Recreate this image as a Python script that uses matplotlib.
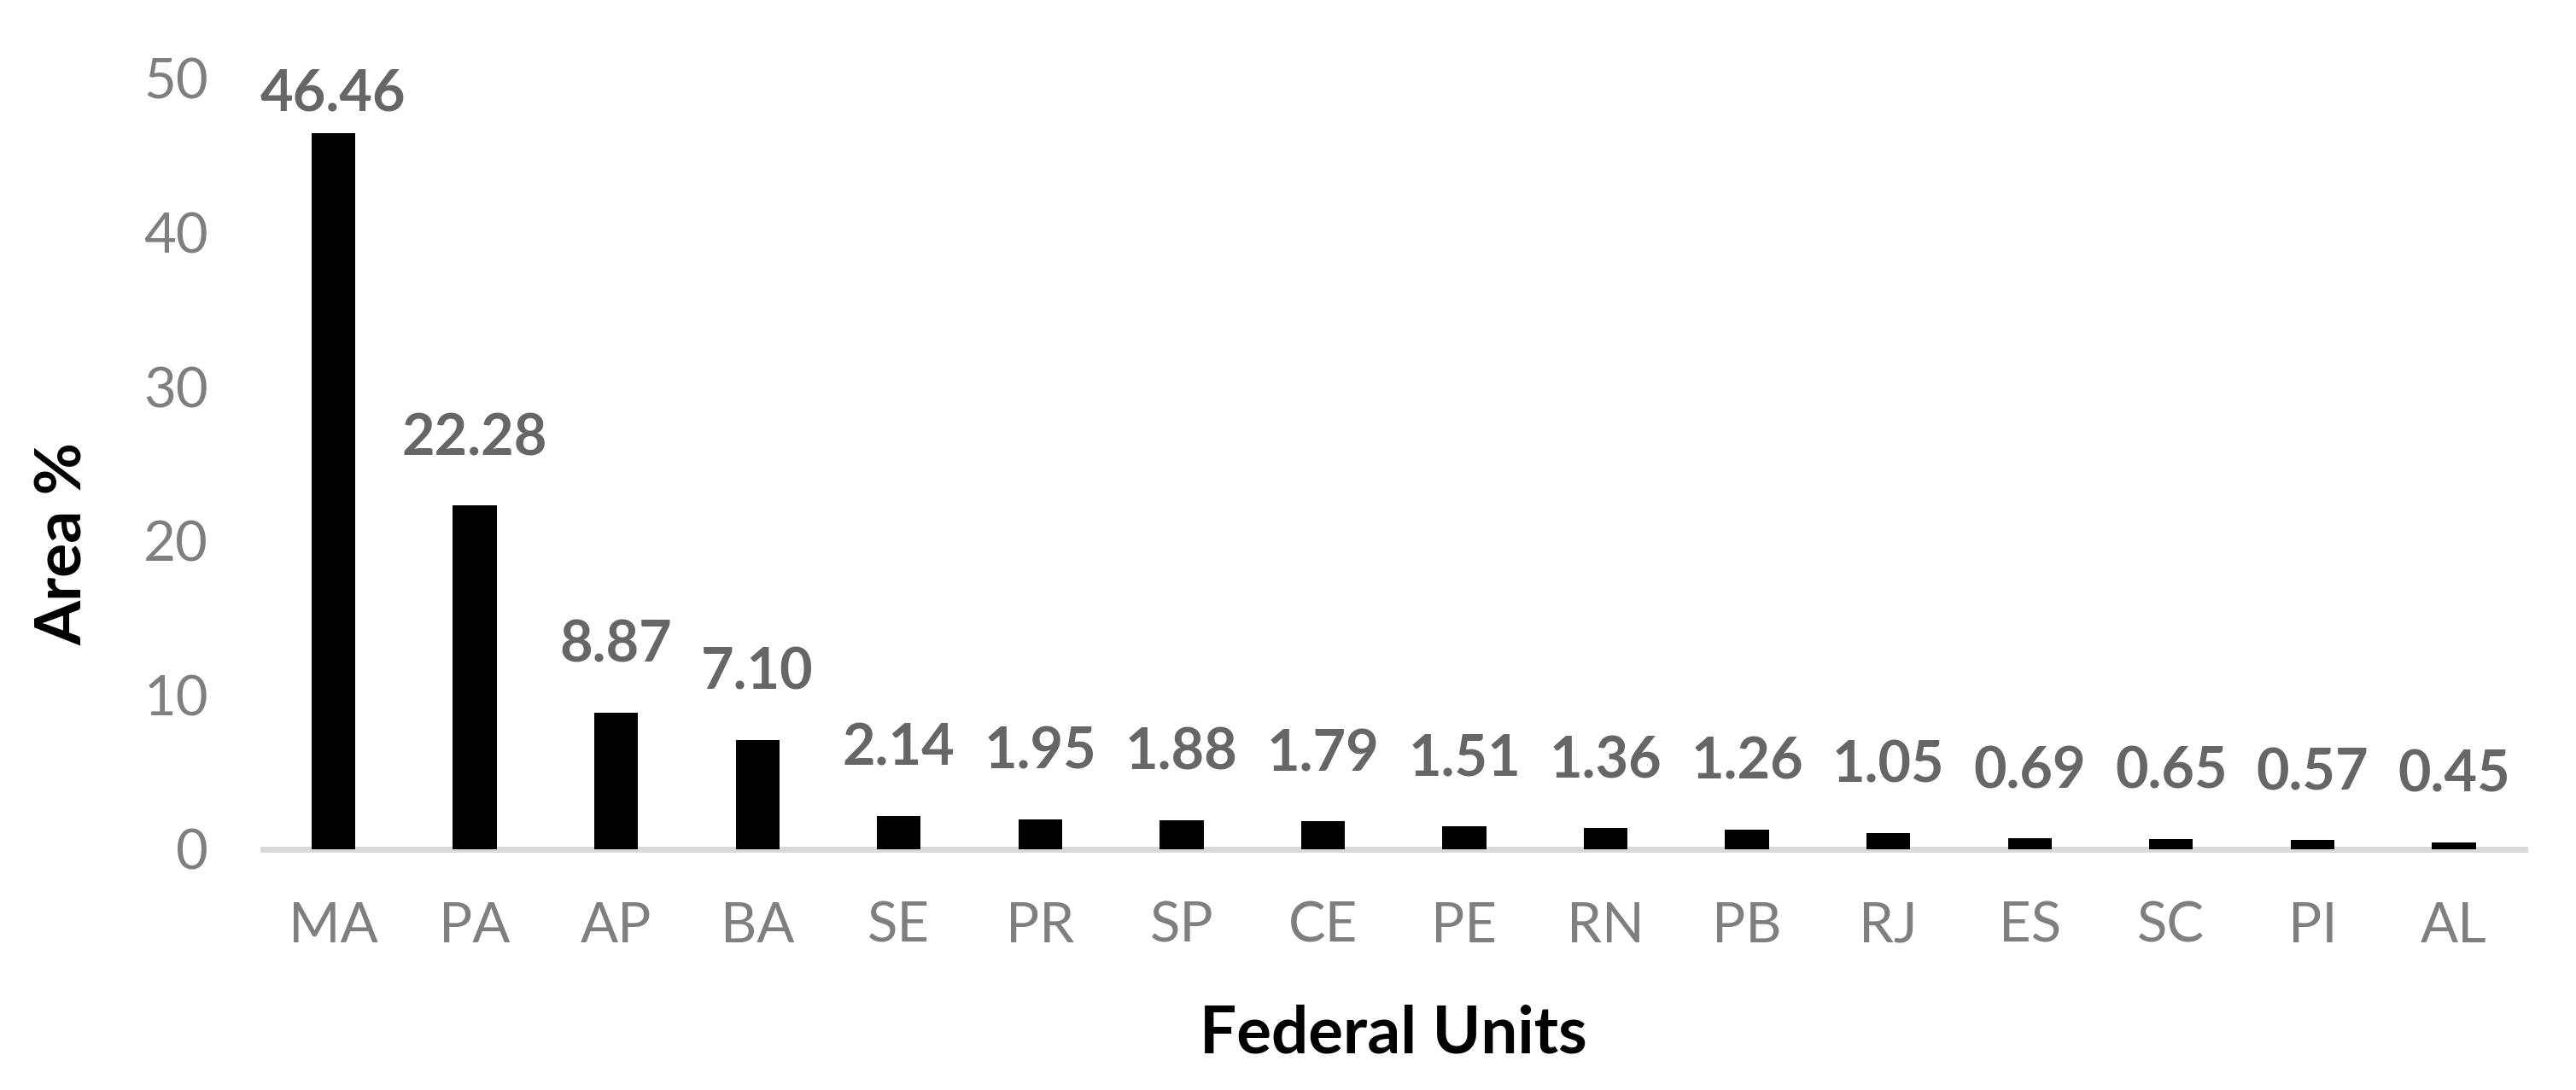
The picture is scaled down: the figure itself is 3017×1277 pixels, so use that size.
import matplotlib
matplotlib.use("Agg")
import matplotlib.pyplot as plt

units = ["MA", "PA", "AP", "BA", "SE", "PR", "SP", "CE", "PE", "RN", "PB", "RJ", "ES", "SC", "PI", "AL"]
area_pct = [46.46, 22.28, 8.87, 7.10, 2.14, 1.95, 1.88, 1.79, 1.51, 1.36, 1.26, 1.05, 0.69, 0.65, 0.57, 0.45]
y_ticks = [0, 10, 20, 30, 40, 50]

plt.rcParams['font.family'] = ['Lato', 'DejaVu Sans']

fig = plt.figure(figsize=(30.17, 12.77), dpi=100)
ax = fig.add_axes([0.102, 0.221, 0.878, 0.707])

x = list(range(len(units)))
ax.bar(x, area_pct, width=0.31, color="black", zorder=2)

ax.set_xlim(-0.5, len(units) - 0.5)
ax.set_ylim(0, 50)
ax.set_yticks(y_ticks)
ax.set_xticks(x)
ax.set_xticklabels(units)

for s in ["top", "right", "left"]:
    ax.spines[s].set_visible(False)
ax.spines["bottom"].set_color("#d9d9d9")
ax.spines["bottom"].set_linewidth(5)
ax.spines["bottom"].set_zorder(1)

ax.tick_params(axis="both", length=0, labelsize=47, colors="#7f7f7f")
ax.tick_params(axis="x", pad=44)
ax.tick_params(axis="y", pad=46)

for xi, v in zip(x, area_pct):
    off = 10 if v > 40 else 34
    ax.annotate(f"{v:.2f}", xy=(xi, v), xytext=(0, off), textcoords="offset points",
                ha="center", va="bottom", fontsize=48, fontweight="bold", color="#666666",
                annotation_clip=False)

ax.set_xlabel("Federal Units", fontsize=55, fontweight="bold", color="black", labelpad=44)
ax.set_ylabel("Area %", fontsize=54, fontweight="bold", color="black")
ax.yaxis.set_label_coords(-0.075, 0.396)

fig.savefig("out.png", dpi=100)
